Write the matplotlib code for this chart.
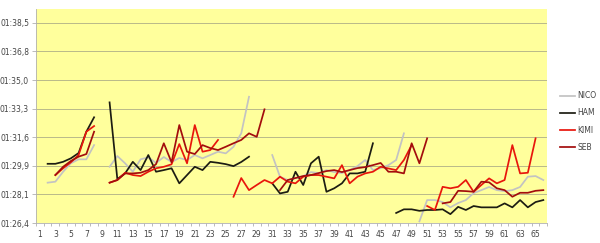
import numpy as np
import matplotlib
matplotlib.use("Agg")
import matplotlib.pyplot as plt
from matplotlib.ticker import FuncFormatter, FixedLocator

N = None
laps = list(range(1, 67))

# lap times in seconds (None = no lap / pit)
nico = [N, 88.84, 88.90, 89.50, 90.01, 90.25, 90.25, 91.11, N,
        89.80, 90.45, 90.01, 89.50, 90.25, 90.37, 90.03, 90.39, 90.09, 90.33,
        90.21, 90.51, 90.31, 90.51, 90.71, 90.61, 91.01, 91.82, 94.03, N, N,
        90.51, 89.20, 89.00, 89.12, 89.24, 89.48, 89.42, 89.60, 89.48, 89.42,
        89.60, 89.84, 90.21, 89.60, 89.72, 89.90, 90.21, 91.82, N, 86.50,
        87.79, 87.79, 87.67, 87.35, 87.61, 87.79, 88.21, 88.39, 88.58, 88.39,
        88.33, 88.39, 88.58, 89.20, 89.24, 89.00]
ham = [N, 89.98, 89.98, 90.10, 90.31, 90.63, 91.92, 92.79, N,
       93.69, 89.06, 89.40, 90.10, 89.60, 90.51, 89.50, 89.60, 89.71, 88.80,
       89.30, 89.80, 89.60, 90.10, 90.04, 89.96, 89.84, 90.09, 90.41, N, N,
       88.80, 88.19, 88.29, 89.50, 88.70, 90.01, 90.41, 88.29, 88.50, 88.80,
       89.40, 89.40, 89.50, 91.22, N, N, 87.01, 87.23, 87.23, 87.14,
       87.19, 87.19, 87.23, 86.94, 87.38, 87.19, 87.43, 87.35, 87.35, 87.35,
       87.59, 87.35, 87.79, 87.35, 87.67, 87.79]
kimi = [N, N, 89.30, 89.71, 90.07, 90.51, 91.92, 92.26, N,
        88.84, 89.00, 89.44, 89.30, 89.24, 89.50, 89.71, 89.80, 89.95, 91.17,
        90.01, 92.32, 90.71, 90.81, 91.42, N, 87.99, 89.12, 88.39, 88.70, 89.00,
        88.80, 89.20, 88.90, 88.80, 89.20, 89.30, 89.30, 89.20, 89.10, 89.90,
        88.80, 89.20, 89.40, 89.50, 89.80, 89.70, 89.60, 90.21, 91.11, N,
        87.43, 87.19, 88.59, 88.50, 88.59, 89.00, 88.29, 88.70, 89.10, 88.80,
        89.00, 91.11, 89.40, 89.44, 91.52, N]
seb = [N, N, 89.30, 89.80, 90.15, 90.41, 90.57, 91.92, N,
       88.84, 89.00, 89.40, 89.40, 89.44, 89.60, 89.96, 91.22, 90.07, 92.32,
       90.71, 90.57, 91.11, 90.93, 90.81, 91.01, 91.22, 91.42, 91.82, 91.61, 93.27,
       N, 88.39, 89.00, 89.12, 89.24, 89.30, 89.42, 89.54, 89.60, 89.48,
       89.60, 89.72, 89.78, 89.90, 90.03, 89.50, 89.50, 89.40, 91.22, 90.01,
       91.52, N, 87.59, 87.67, 88.35, 88.33, 88.29, 88.90, 88.86, 88.50,
       88.39, 87.99, 88.23, 88.23, 88.35, 88.39]

series = [("NICO", nico, "#c3c3c3"), ("HAM", ham, "#1c1c12"),
          ("KIMI", kimi, "#e8160c"), ("SEB", seb, "#a30d0d")]


def fmt(v, pos):
    # mm:ss,t like the spreadsheet
    t = int(round(v * 10))
    m, rest = divmod(t, 600)
    return "%02d:%02d,%d" % (m, rest // 10, rest % 10)


fig = plt.figure(figsize=(6.0, 2.43), dpi=100)
ax = fig.add_axes([0.06, 0.082, 0.852, 0.883])
ax.set_facecolor("#ffff9c")

for name, vals, col in series:
    y = np.array([np.nan if v is None else v for v in vals], dtype=float)
    ax.plot(laps, y, color=col, lw=1.25, label=name)

ymin, step = 86.4, 1.728
ax.set_ylim(ymin, 99.36)
ax.yaxis.set_major_locator(FixedLocator([ymin + k * step for k in range(8)]))
ax.yaxis.set_major_formatter(FuncFormatter(fmt))
ax.grid(axis="y", color="#b9b98a", lw=0.7)
ax.set_axisbelow(True)

ax.set_xlim(0.5, 66.5)
ax.set_xticks(laps[::2])
ax.set_xticks(np.arange(0.5, 67, 1), minor=True)
ax.tick_params(axis="x", which="major", length=0, labelsize=5.5, colors="#444444", pad=5)
ax.tick_params(axis="x", which="minor", length=2.5, color="#b0b0b0", width=0.6)
ax.tick_params(axis="y", length=3, color="#b0b0b0", width=0.6, labelsize=5.5, labelcolor="#444444", pad=2)

for s in ["top", "right"]:
    ax.spines[s].set_visible(False)
for s in ["left", "bottom"]:
    ax.spines[s].set_color("#b0b0b0")
    ax.spines[s].set_linewidth(0.6)

fig.legend(loc="center left", bbox_to_anchor=(0.922, 0.5), frameon=False,
           fontsize=5.5, handlelength=2.0, handletextpad=0.3, labelspacing=1.05,
           labelcolor="#444444")

fig.savefig("out.png", dpi=100, facecolor="white")
